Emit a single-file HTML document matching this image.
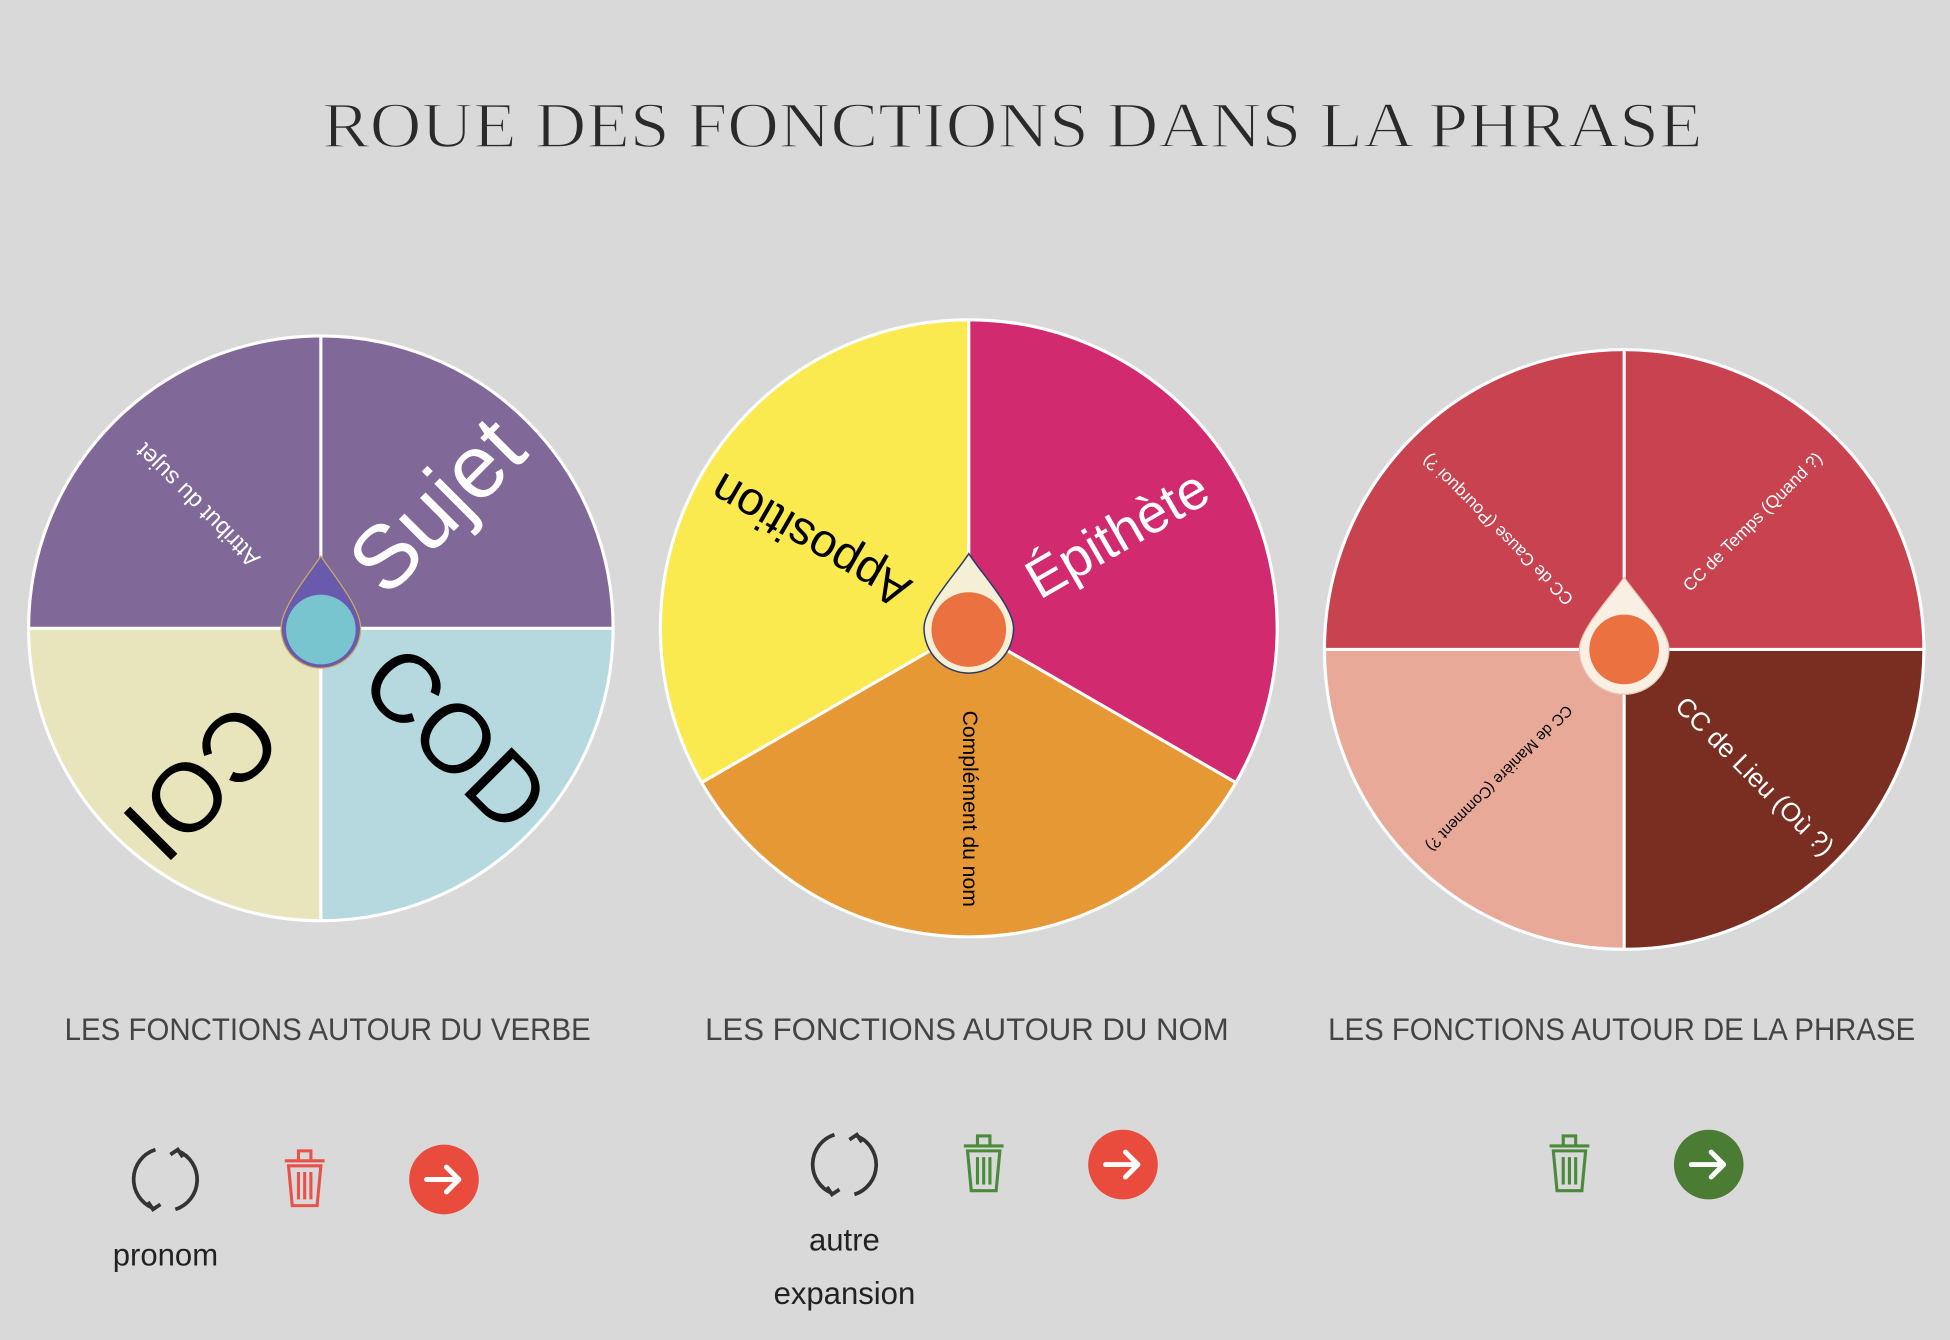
<!DOCTYPE html>
<html><head><meta charset="utf-8"><style>
html,body{margin:0;padding:0;background:#d9d9d9;}
svg{display:block;}
text{font-family:"Liberation Sans",sans-serif;}
</style></head><body>
<svg width="1950" height="1340" viewBox="0 0 1568 1077" preserveAspectRatio="none" xmlns="http://www.w3.org/2000/svg">
<rect width="1568" height="1077" fill="#d9d9d9"/>
<text x="814" y="118" text-anchor="middle" font-size="52" fill="#2a2a2a" stroke="#d9d9d9" stroke-width="1.2" textLength="1110" lengthAdjust="spacingAndGlyphs" style="font-family:'Liberation Serif',serif">ROUE DES FONCTIONS DANS LA PHRASE</text>

<!-- Wheel 1 -->
<g>
<path d="M258,505 L258,270 A235,235 0 0 1 493,505 Z" fill="#806898"/>
<path d="M258,505 L23,505 A235,235 0 0 1 258,270 Z" fill="#806898"/>
<path d="M258,505 L493,505 A235,235 0 0 1 258,740 Z" fill="#b5d9df"/>
<path d="M258,505 L258,740 A235,235 0 0 1 23,505 Z" fill="#e8e4bc"/>
<circle cx="258" cy="505" r="235" fill="none" stroke="#fff" stroke-width="2.5"/>
<path d="M258,270V740M23,505H493" stroke="#fff" stroke-width="2.5"/>
<text transform="translate(355,410) rotate(-45)" text-anchor="middle" dominant-baseline="middle" font-size="72" fill="#fff">Sujet</text>
<text transform="translate(362,598) rotate(45)" text-anchor="middle" dominant-baseline="middle" font-size="78" fill="#000">COD</text>
<text transform="translate(158,624) rotate(135)" text-anchor="middle" dominant-baseline="middle" font-size="78" fill="#000">COI</text>
<text transform="translate(160,405) rotate(225)" text-anchor="middle" dominant-baseline="middle" font-size="19" fill="#fff">Attribut du sujet</text>
<path d="M258,447 C268,462 290,488 290,505 A32,32 0 0 1 226,505 C226,488 248,462 258,447 Z" fill="#6a5aae" stroke="#c8ac5a" stroke-width="1"/>
<circle cx="258" cy="506" r="28" fill="#78c5cf"/>
</g>

<!-- Wheel 2 -->
<g>
<path d="M779,505 L779,257 A248,248 0 0 1 993.8,629 Z" fill="#d12a6f"/>
<path d="M779,505 L993.8,629 A248,248 0 0 1 564.2,629 Z" fill="#e69834"/>
<path d="M779,505 L564.2,629 A248,248 0 0 1 779,257 Z" fill="#fbe950"/>
<circle cx="779" cy="505" r="248" fill="none" stroke="#fff" stroke-width="2.5"/>
<path d="M779,257V505L993.8,629M779,505L564.2,629" stroke="#fff" stroke-width="2.5" fill="none"/>
<text transform="translate(900,432) rotate(-30)" text-anchor="middle" dominant-baseline="middle" font-size="44" fill="#fff">Épithète</text>
<text transform="translate(653,432) rotate(210)" text-anchor="middle" dominant-baseline="middle" font-size="38" fill="#000">Apposition</text>
<text transform="translate(779,650) rotate(90)" text-anchor="middle" dominant-baseline="middle" font-size="17" fill="#000">Complément du nom</text>
<path d="M779,445 C790,462 815,488 815,505 A36,36 0 0 1 743,505 C743,488 768,462 779,445 Z" fill="#f5efd6" stroke="#2a3a6a" stroke-width="1.2"/>
<circle cx="779" cy="506" r="30" fill="#ec7140"/>
</g>

<!-- Wheel 3 -->
<g>
<path d="M1306,522 L1306,281 A241,241 0 0 1 1547,522 Z" fill="#c8424f"/>
<path d="M1306,522 L1065,522 A241,241 0 0 1 1306,281 Z" fill="#c8424f"/>
<path d="M1306,522 L1547,522 A241,241 0 0 1 1306,763 Z" fill="#7a2d21"/>
<path d="M1306,522 L1306,763 A241,241 0 0 1 1065,522 Z" fill="#e8a998"/>
<circle cx="1306" cy="522" r="241" fill="none" stroke="#fff" stroke-width="2.5"/>
<path d="M1306,281V763M1065,522H1547" stroke="#fff" stroke-width="2.5"/>
<text transform="translate(1410,420) rotate(-45)" text-anchor="middle" dominant-baseline="middle" font-size="14" fill="#fff">CC de Temps (Quand ?)</text>
<text transform="translate(1205,425) rotate(225)" text-anchor="middle" dominant-baseline="middle" font-size="14" fill="#fff">CC de Cause (Pourquoi ?)</text>
<text transform="translate(1205,625) rotate(135)" text-anchor="middle" dominant-baseline="middle" font-size="12.5" fill="#000">CC de Manière (Comment ?)</text>
<text transform="translate(1410,625) rotate(45)" text-anchor="middle" dominant-baseline="middle" font-size="21" fill="#fff">CC de Lieu (Où ?)</text>
<path d="M1306,464 C1317,480 1342,506 1342,522 A36,36 0 0 1 1270,522 C1270,506 1295,480 1306,464 Z" fill="#f9efe3" stroke="#e8c8b0" stroke-width="1"/>
<circle cx="1306" cy="522" r="28" fill="#ec7140"/>
</g>

<!-- Subtitles -->
<g font-size="25" fill="#444" style="font-family:'Liberation Sans',sans-serif">
<text x="52" y="836" textLength="423" lengthAdjust="spacingAndGlyphs">LES FONCTIONS AUTOUR DU VERBE</text>
<text x="567" y="836" textLength="421" lengthAdjust="spacingAndGlyphs">LES FONCTIONS AUTOUR DU NOM</text>
<text x="1068" y="836" textLength="472" lengthAdjust="spacingAndGlyphs">LES FONCTIONS AUTOUR DE LA PHRASE</text>
</g>

<!-- icons -->
<defs>
<g id="refresh" fill="none" stroke="#333" stroke-width="3">
<path d="M-8,-24 A25,25 0 0 0 -10,23"/><path d="M8,24 A25,25 0 0 0 10,-23"/>
<path d="M-14,18 L-10,24 L-4,20"/><path d="M14,-18 L10,-24 L4,-20"/>
</g>
<g id="trash" fill="none" stroke-width="2.5">
<path d="M-16,-12 H16 M-5,-12 V-20 H5 V-12"/>
<path d="M-13,-8 L-10,24 H10 L13,-8 Z"/>
<path d="M-5,-3 V19 M0,-3 V19 M5,-3 V19"/>
</g>
<g id="arrow" fill="none" stroke="#fff" stroke-width="4" stroke-linecap="round" stroke-linejoin="round">
<path d="M-14,0 H12 M2,-10 L12,0 L2,10"/>
</g>
</defs>
<use href="#refresh" x="133" y="948"/>
<g stroke="#e8524a"><use href="#trash" x="245" y="945"/></g>
<circle cx="357" cy="948" r="28" fill="#e94b3c"/><use href="#arrow" x="357" y="948"/>

<use href="#refresh" x="679" y="936"/>
<g stroke="#4a8a3a"><use href="#trash" x="791" y="933"/></g>
<circle cx="903" cy="936" r="28" fill="#e94b3c"/><use href="#arrow" x="903" y="936"/>

<g stroke="#4a8a3a"><use href="#trash" x="1262" y="933"/></g>
<circle cx="1374" cy="936" r="28" fill="#4a7c34"/><use href="#arrow" x="1374" y="936"/>

<g font-size="25" fill="#222" text-anchor="middle">
<text x="133" y="1017">pronom</text>
<text x="679" y="1005">autre</text>
<text x="679" y="1048">expansion</text>
</g>
</svg>
</body></html>
